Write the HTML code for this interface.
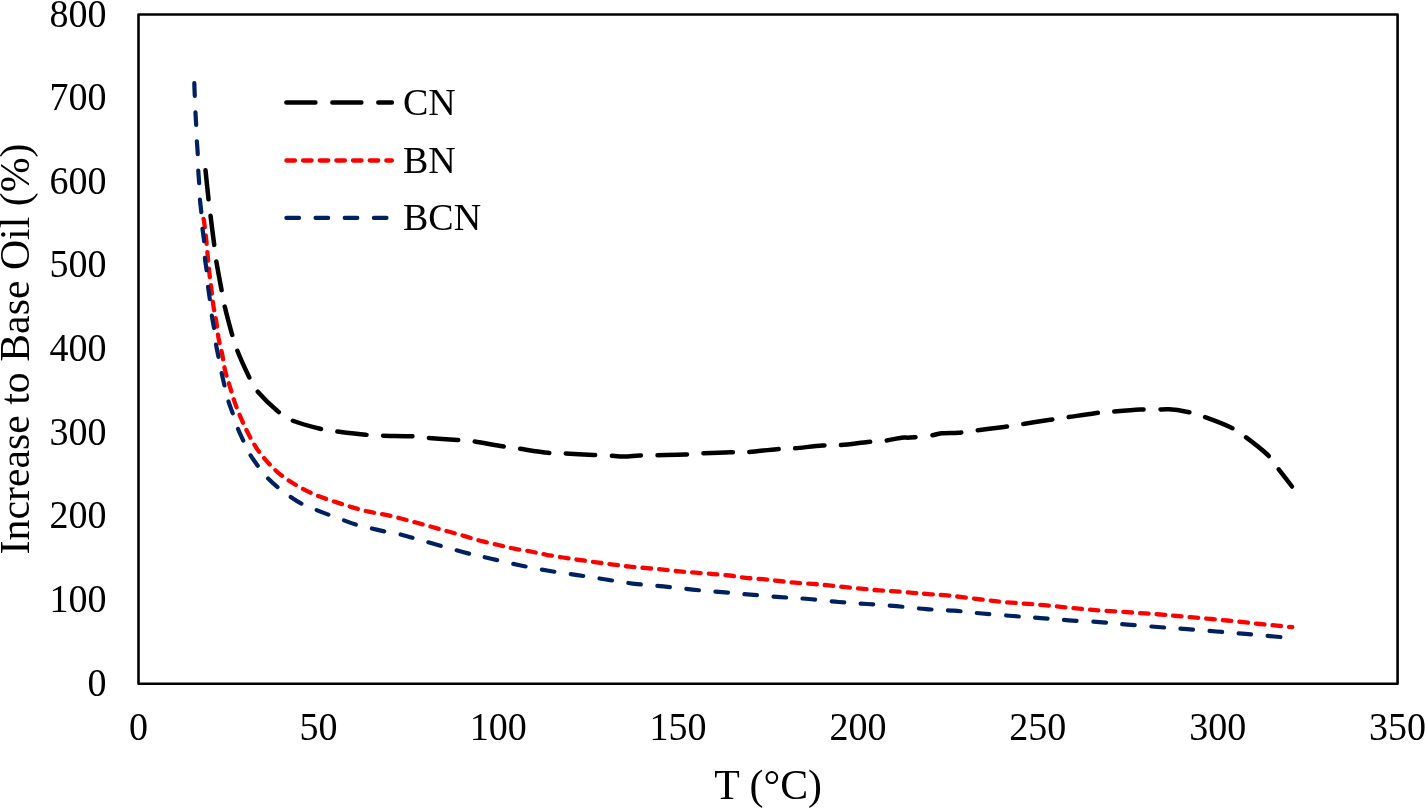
<!DOCTYPE html>
<html><head><meta charset="utf-8"><title>Chart</title>
<style>
html,body{margin:0;padding:0;background:#fff;width:1425px;height:808px;overflow:hidden}
svg{display:block;will-change:transform}
text{font-family:"Liberation Serif",serif;fill:#000}
</style></head><body>
<svg width="1425" height="808" viewBox="0 0 1425 808">
<rect width="1425" height="808" fill="#fff"/>
<rect x="138.50" y="14.50" width="1259.10" height="669.30" fill="none" stroke="#000" stroke-width="2.60" stroke-linejoin="round"/>
<text transform="translate(106.50,695.80) scale(1,1.05)" text-anchor="end" font-size="38">0</text>
<text transform="translate(106.50,612.14) scale(1,1.05)" text-anchor="end" font-size="38">100</text>
<text transform="translate(106.50,528.47) scale(1,1.05)" text-anchor="end" font-size="38">200</text>
<text transform="translate(106.50,444.81) scale(1,1.05)" text-anchor="end" font-size="38">300</text>
<text transform="translate(106.50,361.15) scale(1,1.05)" text-anchor="end" font-size="38">400</text>
<text transform="translate(106.50,277.49) scale(1,1.05)" text-anchor="end" font-size="38">500</text>
<text transform="translate(106.50,193.82) scale(1,1.05)" text-anchor="end" font-size="38">600</text>
<text transform="translate(106.50,110.16) scale(1,1.05)" text-anchor="end" font-size="38">700</text>
<text transform="translate(106.50,26.50) scale(1,1.05)" text-anchor="end" font-size="38">800</text>
<text transform="translate(138.50,740.00) scale(1,1.05)" text-anchor="middle" font-size="38">0</text>
<text transform="translate(318.37,740.00) scale(1,1.05)" text-anchor="middle" font-size="38">50</text>
<text transform="translate(498.24,740.00) scale(1,1.05)" text-anchor="middle" font-size="38">100</text>
<text transform="translate(678.11,740.00) scale(1,1.05)" text-anchor="middle" font-size="38">150</text>
<text transform="translate(857.99,740.00) scale(1,1.05)" text-anchor="middle" font-size="38">200</text>
<text transform="translate(1037.86,740.00) scale(1,1.05)" text-anchor="middle" font-size="38">250</text>
<text transform="translate(1217.73,740.00) scale(1,1.05)" text-anchor="middle" font-size="38">300</text>
<text transform="translate(1397.60,740.00) scale(1,1.05)" text-anchor="middle" font-size="38">350</text>
<text x="768.20" y="799.00" text-anchor="middle" font-size="41.8">T (°C)</text>
<text transform="translate(29.00,349.00) rotate(-90)" x="0" y="0" text-anchor="middle" font-size="41.8">Increase to Base Oil (%)</text>
<path d="M205.5,170.3 C206.0,175.2 207.8,192.6 208.6,200.0 C209.4,207.4 209.5,207.5 210.4,214.8 C211.3,222.1 213.1,236.3 214.1,243.9 C215.1,251.5 215.0,253.0 216.2,260.6 C217.4,268.2 220.1,282.2 221.5,289.7 C222.9,297.2 222.8,298.2 224.5,305.6 C226.2,313.0 229.8,326.4 231.9,333.8 C234.0,341.2 234.2,342.9 237.1,350.1 C239.9,357.3 245.7,370.0 249.0,376.8 C252.3,383.6 252.4,385.2 257.1,390.9 C261.9,396.6 271.7,406.1 277.5,411.0 C283.3,415.9 284.7,417.3 291.8,420.3 C298.9,423.3 313.0,427.0 320.3,428.8 C327.6,430.6 327.9,430.2 335.5,431.2 C343.1,432.2 358.2,434.1 365.8,434.8 C373.4,435.5 373.7,435.4 381.4,435.6 C389.1,435.9 404.3,435.9 411.8,436.3 C419.3,436.7 418.9,437.2 426.6,437.8 C434.3,438.4 450.2,439.4 457.8,440.0 C465.4,440.6 464.9,440.1 472.3,441.2 C479.7,442.2 494.8,445.1 502.4,446.3 C510.0,447.5 510.4,447.4 518.0,448.5 C525.6,449.6 540.4,452.0 548.0,452.8 C555.6,453.6 556.0,453.0 563.6,453.4 C571.2,453.8 586.1,454.6 593.7,455.0 C601.3,455.4 604.2,455.3 609.3,455.6 C614.3,455.9 619.0,456.6 624.0,456.6 C629.0,456.6 634.2,455.8 639.4,455.6 C644.6,455.4 647.4,455.4 655.0,455.2 C662.6,455.0 677.3,454.8 685.0,454.5 C692.7,454.2 693.4,453.8 701.0,453.4 C708.6,453.0 723.1,452.4 730.8,452.2 C738.4,452.0 739.3,452.7 746.9,452.2 C754.5,451.7 769.0,449.8 776.6,449.2 C784.2,448.6 785.1,449.1 792.7,448.5 C800.3,447.9 814.8,446.0 822.4,445.5 C830.0,445.0 830.9,445.9 838.5,445.3 C846.1,444.7 860.3,442.8 867.9,442.0 C875.5,441.2 878.6,441.5 884.2,440.8 C889.8,440.1 897.2,438.2 901.5,437.7 C905.8,437.2 905.3,437.9 910.0,437.6 C914.7,437.3 924.2,436.5 929.5,435.8 C934.8,435.1 936.7,433.8 941.5,433.3 C946.3,432.8 952.9,433.1 958.4,432.7 C963.9,432.2 967.1,431.6 974.7,430.6 C982.3,429.6 996.8,427.9 1004.2,426.9 C1011.6,425.9 1011.6,425.8 1019.0,424.6 C1026.4,423.5 1040.9,421.1 1048.4,420.0 C1055.9,418.9 1056.2,418.9 1063.9,417.8 C1071.7,416.7 1087.2,414.2 1094.9,413.2 C1102.6,412.2 1102.8,412.4 1110.3,411.8 C1117.8,411.2 1132.1,410.0 1139.7,409.6 C1147.3,409.2 1151.2,409.7 1156.1,409.6 C1161.0,409.6 1163.9,409.0 1169.0,409.3 C1174.1,409.6 1181.2,410.6 1186.6,411.7 C1191.9,412.8 1194.0,413.2 1201.1,415.7 C1208.2,418.2 1222.3,423.5 1229.3,426.7 C1236.3,429.9 1236.8,430.5 1242.9,435.0 C1249.1,439.5 1260.7,448.4 1266.2,453.5 C1271.7,458.6 1271.6,460.1 1275.9,465.6 C1280.2,471.1 1289.3,483.0 1292.0,486.5" fill="none" stroke="#000000" stroke-width="4.5" stroke-dasharray="29.0 16.95" stroke-dashoffset="0" stroke-linecap="round" stroke-linejoin="round"/>
<path d="M203.6,219.0 C203.7,219.8 204.0,220.8 204.4,224.0 C204.8,227.2 205.6,233.2 206.1,238.3 C206.6,243.4 207.1,249.2 207.6,254.7 C208.1,260.2 208.6,265.8 209.2,271.4 C209.8,277.0 210.6,282.5 211.3,288.1 C212.0,293.7 212.5,299.6 213.3,305.2 C214.1,310.8 215.4,316.1 216.3,321.5 C217.2,326.9 217.5,332.4 218.5,337.8 C219.5,343.2 221.1,348.7 222.2,354.2 C223.3,359.7 223.9,365.4 225.2,370.8 C226.5,376.2 228.2,381.1 229.8,386.3 C231.4,391.5 232.8,396.6 234.6,401.9 C236.4,407.2 238.7,412.7 240.9,417.9 C243.1,423.1 245.4,428.2 248.0,433.1 C250.6,438.1 253.2,443.0 256.2,447.6 C259.2,452.2 262.6,456.5 266.2,460.6 C269.8,464.7 273.5,468.7 277.7,472.3 C281.9,475.9 286.5,479.0 291.1,482.0 C295.7,485.0 300.3,487.6 305.2,490.1 C310.1,492.6 315.1,494.8 320.4,496.8 C325.7,498.9 331.5,500.6 336.8,502.4 C342.1,504.2 347.1,505.8 352.4,507.4 C357.7,508.9 363.3,510.5 368.7,511.7 C374.1,512.9 379.3,513.5 384.7,514.6 C390.1,515.7 395.6,517.1 401.0,518.5 C406.4,519.9 411.6,521.3 417.0,522.8 C422.4,524.3 427.9,525.8 433.3,527.3 C438.7,528.8 443.9,530.3 449.3,531.8 C454.7,533.3 460.2,534.8 465.6,536.4 C471.0,538.0 476.2,539.7 481.7,541.1 C487.2,542.5 493.0,543.7 498.4,545.0 C503.8,546.3 508.7,547.6 514.1,548.7 C519.5,549.8 525.4,550.5 530.8,551.5 C536.2,552.5 541.0,553.8 546.4,554.8 C551.8,555.8 557.5,556.6 563.1,557.5 C568.7,558.4 574.2,559.2 579.8,560.0 C585.4,560.8 590.9,561.5 596.5,562.3 C602.1,563.1 607.6,563.9 613.2,564.6 C618.8,565.3 624.3,566.1 629.9,566.7 C635.5,567.3 641.0,567.6 646.6,568.1 C652.2,568.6 657.8,569.1 663.3,569.6 C668.8,570.1 674.2,570.9 679.5,571.4 C684.8,571.9 689.6,572.2 695.1,572.6 C700.6,573.0 706.5,573.5 712.2,574.0 C717.9,574.5 723.9,574.9 729.5,575.5 C735.1,576.1 740.0,577.2 745.6,577.8 C751.2,578.4 757.4,578.7 763.0,579.2 C768.6,579.7 773.7,580.4 779.1,581.0 C784.5,581.6 789.6,582.2 795.2,582.7 C800.8,583.2 806.9,583.5 812.5,583.9 C818.1,584.3 823.0,584.8 828.6,585.4 C834.2,586.0 840.1,586.6 845.9,587.2 C851.7,587.8 857.7,588.4 863.3,588.9 C868.9,589.4 874.0,590.0 879.4,590.4 C884.8,590.8 889.9,591.0 895.5,591.4 C901.1,591.8 907.2,592.4 912.8,592.9 C918.4,593.4 922.5,593.6 928.9,594.1 C935.3,594.6 939.6,594.6 951.0,595.8 C962.4,597.0 981.9,599.8 997.4,601.4 C1012.9,603.0 1028.3,603.7 1043.8,605.1 C1059.3,606.5 1074.7,608.4 1090.2,609.7 C1105.7,611.0 1125.0,612.0 1136.7,612.8 C1148.4,613.6 1153.8,614.0 1160.5,614.5 C1167.2,615.0 1171.5,615.5 1177.0,616.0 C1182.5,616.5 1188.1,616.9 1193.7,617.4 C1199.3,617.9 1204.8,618.4 1210.4,618.9 C1216.0,619.4 1221.6,620.0 1227.1,620.5 C1232.6,621.0 1238.1,621.6 1243.6,622.2 C1249.1,622.8 1254.4,623.4 1259.9,624.0 C1265.4,624.6 1271.2,625.1 1276.6,625.6 C1282.0,626.1 1289.7,626.9 1292.3,627.1" fill="none" stroke="#FF0000" stroke-width="4.3" stroke-dasharray="8.55 8.1" stroke-dashoffset="0" stroke-linecap="round" stroke-linejoin="round"/>
<path d="M194.3,83.2 C194.4,85.4 194.6,91.9 194.8,96.6 C195.0,101.2 195.2,106.2 195.4,111.1 C195.6,116.0 196.0,121.1 196.2,125.9 C196.4,130.8 196.5,135.3 196.8,140.2 C197.1,145.0 197.6,150.2 197.8,155.0 C198.0,159.8 198.0,164.1 198.2,168.9 C198.4,173.7 198.9,178.9 199.2,183.8 C199.5,188.7 199.4,193.3 199.8,198.2 C200.2,203.1 201.0,208.2 201.4,213.1 C201.8,218.0 201.9,223.0 202.4,227.8 C202.9,232.6 203.8,237.2 204.2,242.0 C204.6,246.8 204.4,252.0 204.8,256.9 C205.2,261.8 206.2,266.4 206.7,271.1 C207.2,275.9 207.4,280.8 207.9,285.4 C208.4,290.0 209.1,293.9 209.8,299.0 C210.5,304.1 211.2,311.1 211.9,316.0 C212.6,320.9 213.4,323.9 214.1,328.6 C214.8,333.3 215.2,339.4 216.0,344.2 C216.8,349.0 217.7,352.8 218.6,357.5 C219.5,362.2 220.5,367.7 221.5,372.4 C222.5,377.1 223.4,381.0 224.5,385.7 C225.6,390.4 226.8,395.8 228.2,400.6 C229.6,405.4 231.6,410.1 233.2,414.6 C234.8,419.2 235.9,423.4 237.6,427.9 C239.3,432.3 241.5,436.8 243.6,441.3 C245.7,445.8 247.7,450.5 250.2,454.7 C252.7,458.9 255.5,462.7 258.4,466.5 C261.2,470.3 264.0,474.2 267.3,477.7 C270.6,481.2 274.4,484.5 278.2,487.6 C282.0,490.7 286.1,493.8 290.0,496.5 C293.9,499.2 297.6,501.7 301.9,503.9 C306.2,506.1 311.4,507.9 316.0,509.8 C320.6,511.7 324.8,513.3 329.4,515.0 C334.0,516.7 339.1,518.6 343.5,520.2 C347.9,521.8 351.4,523.3 356.1,524.7 C360.8,526.1 367.0,527.3 371.7,528.4 C376.4,529.5 379.6,530.4 384.3,531.4 C389.0,532.4 395.1,533.2 399.9,534.3 C404.7,535.4 402.8,535.0 413.3,538.0 C423.8,541.0 449.8,548.5 462.8,552.0 C475.8,555.5 481.7,556.5 491.2,558.7 C500.7,560.9 510.0,563.2 519.6,565.2 C529.2,567.2 538.9,569.1 548.6,570.8 C558.3,572.4 568.0,573.6 577.6,575.1 C587.2,576.6 596.5,578.0 606.0,579.5 C615.5,581.0 624.9,582.6 634.4,583.8 C643.9,584.9 653.6,585.4 663.3,586.4 C673.0,587.4 682.6,588.6 692.4,589.6 C702.2,590.6 712.4,591.3 722.1,592.1 C731.8,592.9 740.9,593.8 750.6,594.6 C760.3,595.4 770.6,596.4 780.3,597.1 C790.0,597.8 799.1,598.2 808.8,599.0 C818.5,599.8 828.8,601.2 838.5,602.0 C848.2,602.8 857.3,603.3 867.0,604.0 C876.7,604.7 886.8,605.4 896.7,606.2 C906.6,607.1 916.7,608.4 926.2,609.1 C935.8,609.9 944.7,610.0 954.0,610.7 C963.3,611.4 972.1,612.6 981.9,613.5 C991.7,614.4 1003.0,615.2 1012.8,616.0 C1022.6,616.8 1031.4,617.4 1040.7,618.1 C1050.0,618.8 1058.8,619.6 1068.6,620.3 C1078.4,621.0 1089.7,621.4 1099.5,622.1 C1109.3,622.8 1117.7,623.8 1127.4,624.6 C1137.1,625.4 1148.0,626.2 1157.9,627.0 C1167.9,627.8 1177.3,628.4 1187.1,629.1 C1196.8,629.9 1206.7,630.7 1216.4,631.5 C1226.2,632.3 1236.0,633.1 1245.6,633.9 C1255.2,634.7 1266.3,635.8 1274.2,636.5 C1282.1,637.2 1289.9,637.8 1293.0,638.0" fill="none" stroke="#002060" stroke-width="4.2" stroke-dasharray="12.6 16.56" stroke-dashoffset="0" stroke-linecap="round" stroke-linejoin="round"/>
<path d="M286.40,102.60 H391.90" fill="none" stroke="#000000" stroke-width="4.5" stroke-dasharray="29.0 16.95" stroke-linecap="round"/>
<text transform="translate(403.00,115.10) scale(1,1.02)" font-size="38">CN</text>
<path d="M286.40,160.50 H391.90" fill="none" stroke="#FF0000" stroke-width="4.3" stroke-dasharray="8.55 8.1" stroke-linecap="round"/>
<text transform="translate(403.00,173.00) scale(1,1.02)" font-size="38">BN</text>
<path d="M286.40,217.90 H391.90" fill="none" stroke="#002060" stroke-width="4.2" stroke-dasharray="12.6 16.56" stroke-linecap="round"/>
<text transform="translate(403.00,230.40) scale(1,1.02)" font-size="38">BCN</text>
</svg>
</body></html>
